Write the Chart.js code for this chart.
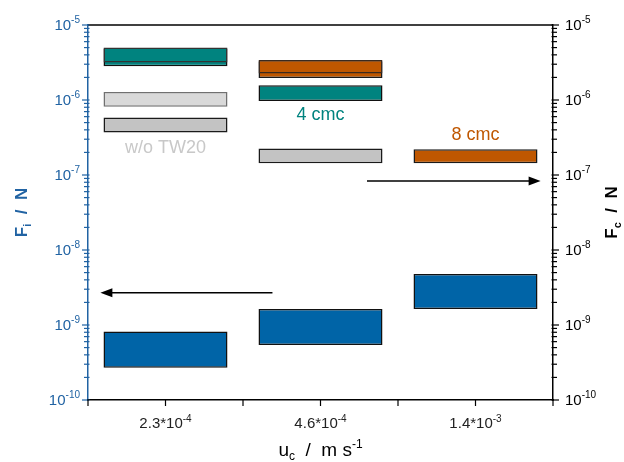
<!DOCTYPE html>
<html>
<head>
<meta charset="utf-8">
<script src="https://cdn.jsdelivr.net/npm/chart.js@4.4.0/dist/chart.umd.min.js"></script>
<style>
  html, body { margin: 0; padding: 0; background: #fff; }
</style>
</head>
<body>
<canvas id="chart" width="624" height="462"></canvas>
<script>
// x categories (superficial velocity u_c), "^" marks the exponent
const categories = ['2.3*10^-4', '4.6*10^-4', '1.4*10^-3'];
const yExponents = [-10, -9, -8, -7, -6, -5];

// F_i (left axis) ranges [low, high]
const fiRange = [[2.7e-10, 8.2e-10], [5.4e-10, 1.64e-9], [1.64e-9, 4.8e-9]];

// F_c (right axis) ranges [low, high]
const fc4cmcA = [[3.16e-6, 5.0e-6], null, null];
const fc4cmcB = [[2.82e-6, 4.85e-6], [9.7e-7, 1.57e-6], null];
const fc8cmcA = [null, [2.25e-6, 3.42e-6], null];
const fc8cmcB = [null, [1.97e-6, 3.29e-6], [1.43e-7, 2.21e-7]];
const fcNoTwLight = [[8.1e-7, 1.28e-6], null, null];
const fcNoTw = [[3.7e-7, 5.85e-7], [1.43e-7, 2.26e-7], null];

// arrows: [from, to] in category index units, at a force value
const arrowX = [[0.69, -0.42], [1.30, 2.42]];
const arrowY = [2.7e-9, 8.3e-8];

// notes
const noteText = ['w/o TW20', '4 cmc', '8 cmc'];
const noteX = [0, 1, 2];
const noteY = [2.28e-7, 6.3e-7, 3.4e-7];

const BLUE = '#0064a7';
const AXIS_BLUE = '#2163a3';
const TEAL = '#00837f';
const ORANGE = '#bf5700';
const FONT = '"Liberation Sans", Arial, sans-serif';

function splitSup(s) {
  const i = s.indexOf('^');
  return i < 0 ? [s, ''] : [s.slice(0, i), s.slice(i + 1)];
}

// draws text parts [{t, size, dy, bold}] starting at x
function drawParts(ctx, parts, x, y, align) {
  let w = 0;
  parts.forEach(p => {
    ctx.font = (p.bold ? 'bold ' : '') + p.size + 'px ' + FONT;
    p.w = ctx.measureText(p.t).width;
    w += p.w;
  });
  let cx = align === 'right' ? x - w : align === 'center' ? x - w / 2 : x;
  ctx.textAlign = 'left';
  parts.forEach(p => {
    ctx.font = (p.bold ? 'bold ' : '') + p.size + 'px ' + FONT;
    ctx.fillText(p.t, cx, y + (p.dy || 0));
    cx += p.w;
  });
}

const decorations = {
  id: 'decorations',
  afterDatasetsDraw(chart) {
    const ctx = chart.ctx;
    const x = chart.scales.x, yL = chart.scales.yL, yR = chart.scales.yR;
    ctx.save();
    // arrows
    ctx.strokeStyle = '#000';
    ctx.fillStyle = '#000';
    ctx.lineWidth = 1.5;
    arrowX.forEach((ax, i) => {
      const sc = i === 0 ? yL : yR;
      const x0 = x.getPixelForValue(ax[0]);
      const x1 = x.getPixelForValue(ax[1]);
      const py = sc.getPixelForValue(arrowY[i]);
      const dir = x1 > x0 ? 1 : -1;
      ctx.beginPath();
      ctx.moveTo(x0, py);
      ctx.lineTo(x1 - dir * 8, py);
      ctx.stroke();
      ctx.beginPath();
      ctx.moveTo(x1, py);
      ctx.lineTo(x1 - dir * 12, py - 4.5);
      ctx.lineTo(x1 - dir * 12, py + 4.5);
      ctx.closePath();
      ctx.fill();
    });
    // notes
    const noteColors = ['#c8c8c8', TEAL, ORANGE];
    ctx.textBaseline = 'middle';
    ctx.textAlign = 'center';
    ctx.font = '18px ' + FONT;
    noteText.forEach((t, i) => {
      ctx.fillStyle = noteColors[i];
      ctx.fillText(t, x.getPixelForValue(noteX[i]), yR.getPixelForValue(noteY[i]));
    });
    ctx.restore();
  },
  afterDraw(chart) {
    const ctx = chart.ctx;
    const area = chart.chartArea;
    const x = chart.scales.x, yL = chart.scales.yL, yR = chart.scales.yR;
    ctx.save();
    // top frame line
    ctx.strokeStyle = '#000';
    ctx.lineWidth = 1.5;
    ctx.beginPath();
    ctx.moveTo(area.left, area.top);
    ctx.lineTo(area.right, area.top);
    ctx.stroke();

    // y ticks
    ctx.lineWidth = 1.2;
    [[yL, area.left, -1, AXIS_BLUE], [yR, area.right, 1, '#000']].forEach(([sc, ax, dir, col]) => {
      ctx.strokeStyle = col;
      yExponents.forEach(e => {
        for (let k = 1; k <= 9; k++) {
          if (e === yExponents[yExponents.length - 1] && k > 1) break;
          const py = sc.getPixelForValue(k * Math.pow(10, e));
          const len = k === 1 ? 6 : 4;
          ctx.beginPath();
          ctx.moveTo(ax - dir * 1.5, py);
          ctx.lineTo(ax + dir * len, py);
          ctx.stroke();
        }
      });
      // labels
      ctx.fillStyle = col;
      ctx.textBaseline = 'middle';
      yExponents.forEach(e => {
        const py = sc.getPixelForValue(Math.pow(10, e));
        const parts = [{t: '10', size: 15, dy: 1}, {t: String(e), size: 10, dy: -5}];
        if (dir < 0) drawParts(ctx, parts, ax - 8, py, 'right');
        else drawParts(ctx, parts, ax + 12, py, 'left');
      });
    });

    // x ticks at categories and between them
    ctx.strokeStyle = '#000';
    for (let v = -0.5; v <= categories.length - 0.5 + 1e-6; v += 0.5) {
      const px = x.getPixelForValue(v);
      ctx.beginPath();
      ctx.moveTo(px, area.bottom - 1);
      ctx.lineTo(px, area.bottom + 6);
      ctx.stroke();
    }
    ctx.fillStyle = '#222';
    ctx.textBaseline = 'alphabetic';
    categories.forEach((c, i) => {
      const [b, s] = splitSup(c);
      drawParts(ctx, [{t: b, size: 15}, {t: s, size: 10, dy: -6}], x.getPixelForValue(i), 428, 'center');
    });

    // axis titles
    ctx.fillStyle = '#000';
    drawParts(ctx, [{t: 'u', size: 19}, {t: 'c', size: 12, dy: 4}, {t: '  /  m s', size: 19}, {t: '-1', size: 12, dy: -8}],
      (area.left + area.right) / 2, 456, 'center');

    ctx.save();
    ctx.translate(27, (area.top + area.bottom) / 2);
    ctx.rotate(-Math.PI / 2);
    ctx.fillStyle = AXIS_BLUE;
    drawParts(ctx, [{t: 'F', size: 17, bold: true}, {t: 'i', size: 11, dy: 4, bold: true}, {t: '  /  N', size: 17, bold: true}], 0, 0, 'center');
    ctx.restore();

    ctx.save();
    ctx.translate(617, (area.top + area.bottom) / 2);
    ctx.rotate(-Math.PI / 2);
    ctx.fillStyle = '#000';
    drawParts(ctx, [{t: 'F', size: 17, bold: true}, {t: 'c', size: 11, dy: 4, bold: true}, {t: '  /  N', size: 17, bold: true}], 0, 0, 'center');
    ctx.restore();

    ctx.restore();
  }
};

function bars(data, fill, border, axis) {
  return {
    data: data,
    backgroundColor: fill,
    borderColor: border,
    borderWidth: 1.5,
    borderSkipped: false,
    yAxisID: axis,
    grouped: false,
    categoryPercentage: 0.8,
    barPercentage: 1.0
  };
}

const logAxis = (pos, color, width) => ({
  type: 'logarithmic',
  position: pos,
  min: 1e-10,
  max: 1e-5,
  ticks: { display: false },
  grid: { display: false },
  border: { display: true, color: color, width: 1.5 },
  afterFit(scale) { scale.width = width; }
});

new Chart(document.getElementById('chart'), {
  type: 'bar',
  data: {
    labels: categories,
    datasets: [
      bars(fc4cmcA, TEAL, '#333', 'yR'),
      bars(fc4cmcB, TEAL, '#111', 'yR'),
      bars(fc8cmcA, ORANGE, '#3a2a20', 'yR'),
      bars(fc8cmcB, ORANGE, '#1a1a1a', 'yR'),
      bars(fcNoTwLight, '#d9d9d9', '#707070', 'yR'),
      bars(fcNoTw, '#c3c3c3', '#1a1a1a', 'yR'),
      bars(fiRange, BLUE, '#111', 'yL')
    ]
  },
  options: {
    responsive: false,
    animation: false,
    layout: { padding: { top: 25, left: 0, right: 0, bottom: 0 } },
    plugins: { legend: { display: false }, tooltip: { enabled: false } },
    scales: {
      x: {
        type: 'category',
        offset: true,
        ticks: { display: false },
        grid: { display: false },
        border: { display: true, color: '#000', width: 1.5 },
        afterFit(scale) { scale.height = 62; }
      },
      yL: logAxis('left', AXIS_BLUE, 88),
      yR: logAxis('right', '#000', 71)
    }
  },
  plugins: [decorations]
});
</script>
</body>
</html>
